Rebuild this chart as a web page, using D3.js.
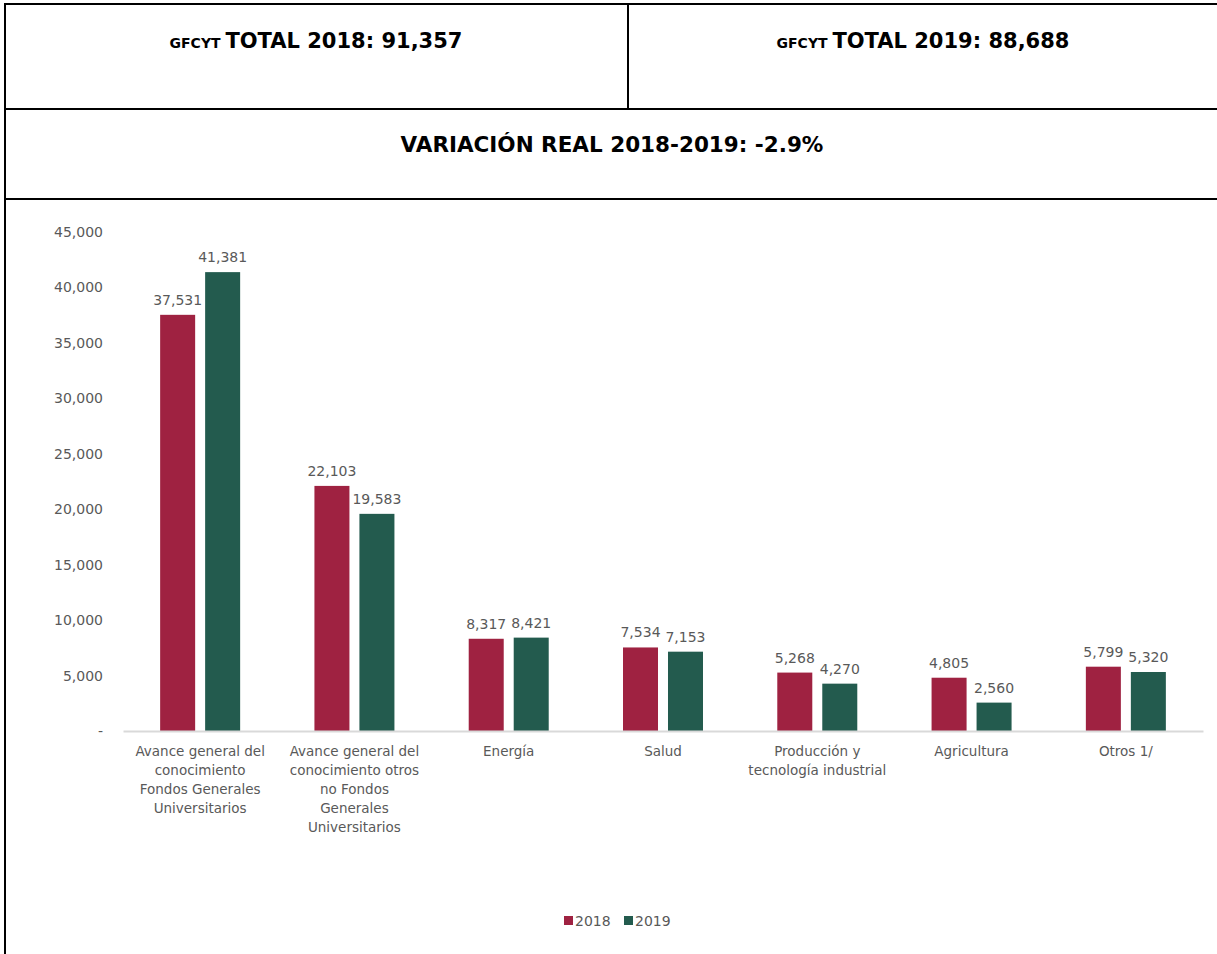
<!DOCTYPE html>
<html>
<head>
<meta charset="utf-8">
<script src="https://cdn.jsdelivr.net/npm/d3@7"></script>
<style>
  html, body { margin: 0; padding: 0; background: #fff; }
  svg { display: block; }
</style>
</head>
<body>
<svg id="chart" width="1217" height="954"></svg>
<script>
// Gasto federal en ciencia y tecnología por finalidad (millones de pesos)
const categories = [
  ["Avance general del", "conocimiento", "Fondos Generales", "Universitarios"],
  ["Avance general del", "conocimiento otros", "no Fondos", "Generales", "Universitarios"],
  ["Energía"],
  ["Salud"],
  ["Producción y", "tecnología industrial"],
  ["Agricultura"],
  ["Otros 1/"]
];
const values2018 = [37531, 22103, 8317, 7534, 5268, 4805, 5799];
const values2019 = [41381, 19583, 8421, 7153, 4270, 2560, 5320];
const seriesNames = ["2018", "2019"];
const seriesColors = ["#9F2241", "#235B4E"];
const yTicks = [0, 5000, 10000, 15000, 20000, 25000, 30000, 35000, 40000, 45000];
const totalLabels = ["TOTAL 2018: 91,357", "TOTAL 2019: 88,688"];
const variationLabel = "VARIACIÓN REAL 2018-2019: -2.9%";

const svg = d3.select("#chart");
const font = "'DejaVu Sans', sans-serif";
const grey = "#595959";

// Header boxes
const frame = svg.append("g").attr("fill", "none").attr("stroke", "#000").attr("stroke-width", 2);
frame.append("line").attr("x1", 5).attr("x2", 1217).attr("y1", 4).attr("y2", 4);
frame.append("line").attr("x1", 5).attr("x2", 1217).attr("y1", 109).attr("y2", 109);
frame.append("line").attr("x1", 5).attr("x2", 1217).attr("y1", 199).attr("y2", 199);
frame.append("line").attr("x1", 5).attr("x2", 5).attr("y1", 3).attr("y2", 954);
frame.append("line").attr("x1", 628).attr("x2", 628).attr("y1", 4).attr("y2", 109);

const headerCenters = [316, 923];
totalLabels.forEach((t, i) => {
  const txt = svg.append("text")
    .attr("x", headerCenters[i]).attr("y", 48)
    .attr("text-anchor", "middle")
    .attr("font-family", font).attr("font-weight", "bold").attr("fill", "#000");
  txt.append("tspan").attr("font-size", 14).text("GFCYT ");
  txt.append("tspan").attr("font-size", 21).text(t);
});
svg.append("text")
  .attr("x", 612).attr("y", 152)
  .attr("text-anchor", "middle")
  .attr("font-family", font).attr("font-weight", "bold")
  .attr("font-size", 21.5).attr("fill", "#000")
  .text(variationLabel);

// Plot area
const x0 = 123, x1 = 1203, yBase = 731, yTop = 232;
const x = d3.scaleBand().domain(d3.range(categories.length)).range([x0, x1]).padding(0);
const y = d3.scaleLinear().domain([0, 45000]).range([yBase, yTop]);
const half = x.bandwidth() / 2;
const xs = d3.scaleBand().domain(seriesNames).range([half - 40, half + 40]).paddingInner(0.222).paddingOuter(0);

// Y axis labels
const yAxis = d3.axisLeft(y).tickValues(yTicks).tickSize(0).tickPadding(0)
  .tickFormat(d => d === 0 ? "-" : d3.format(",")(d));
const yg = svg.append("g").attr("transform", `translate(103,0)`).call(yAxis);
yg.select(".domain").remove();
yg.selectAll("text").attr("font-family", font).attr("font-size", 14).attr("fill", grey);

// Bars and value labels
const series = [values2018, values2019];
series.forEach((vals, si) => {
  svg.append("g").selectAll("rect").data(vals).join("rect")
    .attr("x", (d, i) => x(i) + xs(seriesNames[si]))
    .attr("width", xs.bandwidth())
    .attr("y", d => y(d))
    .attr("height", d => y(0) - y(d))
    .attr("fill", seriesColors[si]);
  svg.append("g").selectAll("text").data(vals).join("text")
    .attr("x", (d, i) => x(i) + xs(seriesNames[si]) + xs.bandwidth() / 2)
    .attr("y", d => y(d) - 10)
    .attr("text-anchor", "middle")
    .attr("font-family", font).attr("font-size", 14).attr("fill", grey)
    .text(d => d3.format(",")(d));
});

// X axis
const xAxis = d3.axisBottom(x).tickSize(0).tickFormat("");
const xg = svg.append("g").attr("transform", `translate(0,${yBase})`).call(xAxis);
xg.select(".domain").attr("stroke", "#d9d9d9").attr("stroke-width", 2);

const labels = svg.append("g");
categories.forEach((lines, i) => {
  const cx = x(i) + x.bandwidth() / 2;
  const t = labels.append("text")
    .attr("x", cx).attr("y", 756)
    .attr("text-anchor", "middle")
    .attr("font-family", font).attr("font-size", 13.5).attr("fill", grey);
  lines.forEach((ln, k) => {
    t.append("tspan").attr("x", cx).attr("dy", k === 0 ? 0 : 19).text(ln);
  });
});

// Legend
const legend = svg.append("g");
const legendX = [564, 624];
seriesNames.forEach((n, i) => {
  legend.append("rect").attr("x", legendX[i]).attr("y", 916).attr("width", 9).attr("height", 9)
    .attr("fill", seriesColors[i]);
  legend.append("text").attr("x", legendX[i] + 11).attr("y", 926)
    .attr("font-family", font).attr("font-size", 14).attr("fill", grey).text(n);
});
</script>
</body>
</html>
